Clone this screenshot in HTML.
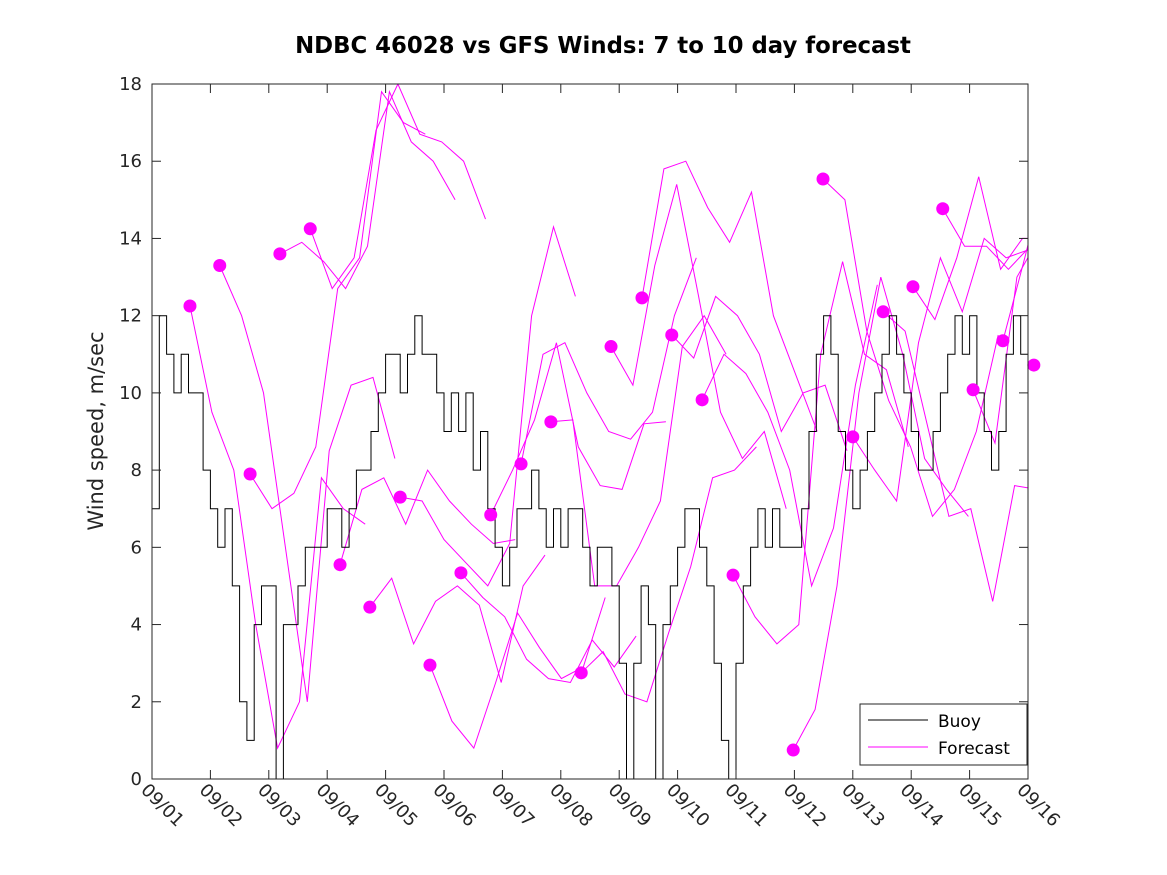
<!DOCTYPE html>
<html><head><meta charset="utf-8"><style>
body{margin:0;background:#fff;}
svg{display:block;font-family:"DejaVu Sans","Liberation Sans",sans-serif;}
</style></head><body>
<svg id="chart" width="1167" height="875">
<rect width="1167" height="875" fill="#fff"/>
<text x="603" y="53" text-anchor="middle" font-size="22.8" font-weight="bold" fill="#000">NDBC 46028 vs GFS Winds: 7 to 10 day forecast</text>
<text transform="translate(103,431) rotate(-90)" text-anchor="middle" font-size="21" fill="#262626">Wind speed, m/sec</text>
<defs><clipPath id="pc"><rect x="152" y="84" width="876" height="695"/></clipPath></defs>
<g id="forecast" clip-path="url(#pc)"></g>
<g id="buoy" clip-path="url(#pc)"></g>
<g id="dots"></g>
<g id="axes"></g>
<g>
<rect x="860" y="704" width="167" height="61" fill="#fff" stroke="#262626" stroke-width="1"/>
<line x1="868" y1="720" x2="928" y2="720" stroke="#000"/>
<text x="938" y="727" font-size="17" fill="#000">Buoy</text>
<line x1="868" y1="747" x2="928" y2="747" stroke="#f0f"/>
<text x="938" y="754" font-size="17" fill="#000">Forecast</text>
</g>
</svg>
<script>
const xTickLabels=["09/01","09/02","09/03","09/04","09/05","09/06","09/07","09/08","09/09","09/10","09/11","09/12","09/13","09/14","09/15","09/16"];
const yTicks=[0,2,4,6,8,10,12,14,16,18];
const buoyStep=0.125;
const buoyValues=[
7,12,11,10,11,10,10,8,
7,6,7,5,2,1,4,5,
5,0,4,4,5,6,6,6,
7,7,6,7,8,8,9,10,
11,11,10,11,12,11,11,10,
9,10,9,10,8,9,7,6,
5,6,7,7,8,7,6,7,
6,7,7,6,5,6,6,5,
3,0,3,5,4,0,4,5,
6,7,7,6,5,3,1,0,
3,5,6,7,6,7,6,6,
6,7,9,11,12,11,9,8,
7,8,9,10,11,12,11,10,
9,8,8,9,10,11,12,11,
12,10,9,8,9,11,12,11,
9];
const fcStarts=[0.65,1.16,1.68,2.19,2.71,3.22,3.73,4.25,4.76,5.29,5.80,6.32,6.83,7.35,7.86,8.39,8.90,9.42,9.95,10.98,11.49,12.0,12.52,13.03,13.54,14.06,14.57,15.1];
const fcStep=0.375;
const fcValues=[
[12.25,9.5,8,4,0.8,2,7.8,7,6.6],
[13.3,12,10,6,2,8.5,10.2,10.4,8.3],
[7.9,7,7.4,8.6,12.7,13.5,17.8,17,16.7],
[13.6,13.9,13.4,12.7,13.8,17.8,16.5,16,15],
[14.25,12.7,13.5,16.8,18,16.7,16.5,16,14.5],
[5.55,7.5,7.8,6.6,8,7.2,6.6,6.1,6.2],
[4.45,5.2,3.5,4.6,5,4.5,2.5,5,5.8],
[7.3,7.2,6.2,5.6,5,6.1,12,14.3,12.5],
[2.95,1.5,0.8,2.5,4.3,3.4,2.6,2.9,4.7],
[5.34,4.7,4.2,3.1,2.6,2.5,3.6,2.9,3.7],
[6.84,8,9.3,11.3,8.6,7.6,7.5,9.2,9.25],
[8.16,11,11.3,10,9,8.8,9.5,12,13.5],
[9.25,9.3,5,5,6,7.2,11.2,12,11],
[2.75,3.3,2.2,2,3.8,5.5,7.8,8,8.6],
[11.2,10.2,13.3,15.4,12.5,9.5,8.3,9,7],
[12.46,15.8,16,14.8,13.9,15.2,12,10.5,9],
[11.5,10.9,12.5,12,11,9,10,10.2,8.5],
[9.82,11,10.5,9.5,8,5,6.5,10.2,12.8],
[5.28,4.2,3.5,4,11,13.4,11,10.6,8.6],
[0.75,1.8,5,10,13,11,8.3,7.5,6.8],
[15.54,15,11.6,9.8,8.6,6.8,7.5,9,11.5],
[8.86,8,7.2,11.3,13.5,12.1,14,13.5,13.7],
[12.1,11.6,9.2,6.8,7,4.6,7.6,7.5,8.8],
[12.75,11.9,13.5,15.6,13.2,14,14,15.2,16.1],
[14.77,13.8,13.8,13.2,13.8,15,16,14.6,10.7],
[10.08,8.7,13,14,12.6,11.8,8.6,9.5,10],
[11.35,13.5,15.8,15,12.8,8.5,3.5,3.2,4.2],
[10.72,10,9,9,9,9,9,9,9]
];
const X0=152,X1=1028,Y0=779,Y1=84,DAYS=15,YMAX=18;
const sx=d=>X0+(X1-X0)*d/DAYS;
const sy=v=>Y0-(Y0-Y1)*v/YMAX;
const NS="http://www.w3.org/2000/svg";
function mk(tag,parent,attrs){const e=document.createElementNS(NS,tag);for(const k in attrs)e.setAttribute(k,attrs[k]);parent.appendChild(e);return e;}
const fg=document.getElementById('forecast');
fcValues.forEach((vals,i)=>{
  const pts=vals.map((v,j)=>sx(fcStarts[i]+j*fcStep).toFixed(1)+','+sy(v).toFixed(1)).join(' ');
  const p=mk('polyline',fg,{points:pts,fill:'none',stroke:'#f0f','stroke-width':1});
  
  
});
const bg=document.getElementById('buoy');
let bp='';
buoyValues.forEach((v,i)=>{
  const x=sx(i*buoyStep),y=sy(v);
  bp+=(i===0?'M':'L')+x.toFixed(1)+','+y.toFixed(1)+' ';
  if(i<buoyValues.length-1){bp+='L'+sx((i+1)*buoyStep).toFixed(1)+','+y.toFixed(1)+' ';}
});
const bl=mk('path',bg,{d:bp,fill:'none',stroke:'#000','stroke-width':1});


const dg=document.getElementById('dots');
fcStarts.forEach((d,i)=>{
  const c=mk('circle',dg,{cx:sx(d),cy:sy(fcValues[i][0]),r:6.5,fill:'#f0f'});
  
  
});
const ag=document.getElementById('axes');
mk('rect',ag,{x:X0,y:Y1,width:X1-X0,height:Y0-Y1,fill:'none',stroke:'#262626','stroke-width':1});
yTicks.forEach(v=>{
  const y=sy(v);
  mk('line',ag,{x1:X0,y1:y,x2:X0+9,y2:y,stroke:'#262626'});
  mk('line',ag,{x1:X1,y1:y,x2:X1-9,y2:y,stroke:'#262626'});
  const t=mk('text',ag,{x:X0-10,y:y+6,'text-anchor':'end','font-size':18,fill:'#262626'});
  t.textContent=v;
  
  
});
xTickLabels.forEach((lab,i)=>{
  const x=sx(i);
  mk('line',ag,{x1:x,y1:Y0,x2:x,y2:Y0-9,stroke:'#262626'});
  mk('line',ag,{x1:x,y1:Y1,x2:x,y2:Y1+9,stroke:'#262626'});
  const t=mk('text',ag,{x:0,y:0,transform:`translate(${x-12},${Y0+12}) rotate(45)`,'font-size':18,fill:'#262626'});
  t.textContent=lab;
  
  
});
</script>
</body></html>
